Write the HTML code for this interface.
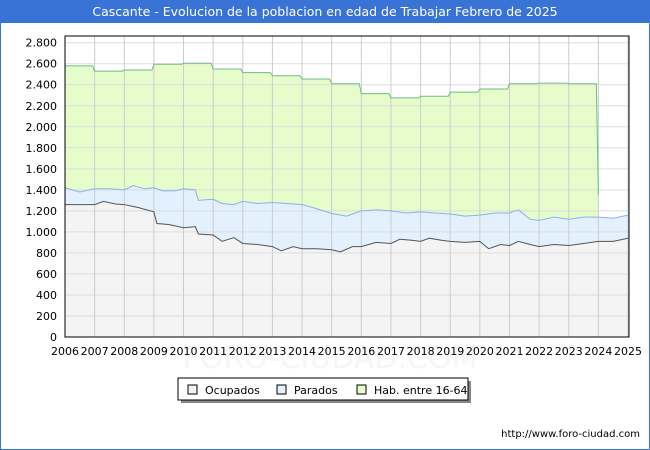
<!DOCTYPE html>
<html><head><meta charset="utf-8"><style>
body{margin:0;background:#fff;font-family:"DejaVu Sans","Liberation Sans",sans-serif}
#wrap{position:relative;width:650px;height:450px;overflow:hidden;background:#fff}
#title{position:absolute;left:0;top:0;width:650px;height:23px;background:#3a73d6;color:#fff;font-size:12.5px;line-height:23px;text-align:center}
#frame{position:absolute;left:0;top:23px;width:648px;height:426px;border:1px solid #3a73d6;border-top:none}
</style></head><body>
<div id="wrap">
<div id="title">Cascante - Evolucion de la poblacion en edad de Trabajar Febrero de 2025</div>
<div id="frame"></div>
<svg id="svg" width="650" height="450" style="position:absolute;left:0;top:0;font-family:'DejaVu Sans',sans-serif"></svg>
</div>
<script>
const yearTicks=[2006,2007,2008,2009,2010,2011,2012,2013,2014,2015,2016,2017,2018,2019,2020,2021,2022,2023,2024,2025];
const yTicks=[0,200,400,600,800,1000,1200,1400,1600,1800,2000,2200,2400,2600,2800];
const yTickLabels=["0","200","400","600","800","1.000","1.200","1.400","1.600","1.800","2.000","2.200","2.400","2.600","2.800"];
const habYears=[2006,2007,2008,2009,2010,2011,2012,2013,2014,2015,2016,2017,2018,2019,2020,2021,2022,2023];
const habValues=[2580,2530,2540,2595,2605,2550,2515,2485,2455,2410,2315,2275,2290,2330,2360,2410,2415,2410];
const habEndValue=1350;
const totTimes=[2006,2006.5,2007,2007.5,2008,2008.3,2008.7,2009,2009.3,2009.7,2010,2010.4,2010.5,2011,2011.3,2011.7,2012,2012.5,2013,2013.5,2014,2014.5,2015,2015.5,2016,2016.5,2017,2017.5,2018,2018.5,2019,2019.5,2020,2020.5,2021,2021.3,2021.7,2022,2022.5,2023,2023.5,2024,2024.5,2025];
const totValues=[1420,1380,1410,1410,1400,1440,1410,1420,1390,1390,1410,1400,1300,1310,1270,1260,1290,1270,1280,1270,1260,1220,1175,1150,1200,1210,1200,1180,1190,1180,1170,1150,1160,1180,1180,1210,1120,1110,1140,1120,1140,1140,1130,1160];
const ocuTimes=[2006,2006.5,2007,2007.3,2007.7,2008,2008.5,2009,2009.1,2009.5,2010,2010.4,2010.5,2011,2011.3,2011.7,2012,2012.5,2013,2013.3,2013.7,2014,2014.5,2015,2015.3,2015.7,2016,2016.5,2017,2017.3,2017.7,2018,2018.3,2018.7,2019,2019.5,2020,2020.3,2020.7,2021,2021.3,2021.7,2022,2022.5,2023,2023.5,2024,2024.5,2025];
const ocuValues=[1260,1260,1260,1290,1265,1260,1230,1190,1080,1070,1040,1050,980,970,910,945,890,880,860,820,860,840,840,830,810,860,860,900,890,930,920,910,940,920,910,900,910,840,880,870,910,880,860,880,870,890,910,910,940];
const L=65,R=629,T=36,B=337;
const xs=t=>L+(t-2006)/19*(628-L);
const ys=v=>B-v/2800*294.3;
const svg=document.getElementById('svg');
const NS='http://www.w3.org/2000/svg';
function mk(tag,attrs,name){const e=document.createElementNS(NS,tag);for(const k in attrs)e.setAttribute(k,attrs[k]);


svg.appendChild(e);return e;}
const wm=mk('text',{x:330,y:368,'text-anchor':'middle','font-size':30,fill:'#f6f6f6'},'watermark');wm.textContent='FORO-CIUDAD.COM';
mk('rect',{x:L,y:T,width:R-L,height:B-T,fill:'#fff'},'plot-background');
let hp='M'+xs(2006)+','+B;
habYears.forEach((y,i)=>{hp+=' L'+xs(y)+','+ys(habValues[i])+' L'+(xs(y+1)-2)+','+ys(habValues[i]);});
hp+=' L'+xs(2024)+','+ys(habEndValue)+' L'+xs(2024)+','+B+' Z';
mk('path',{d:hp,fill:'#e6fdcb',stroke:'none'},'hab-area');
let hl='M'+xs(2006)+','+ys(habValues[0]);
habYears.forEach((y,i)=>{hl+=' L'+xs(y)+','+ys(habValues[i])+' L'+(xs(y+1)-2)+','+ys(habValues[i]);});
hl+=' L'+xs(2024)+','+ys(habEndValue);
let tp='M'+xs(2006)+','+B;totTimes.forEach((t,i)=>tp+=' L'+xs(t)+','+ys(totValues[i]));tp+=' L'+xs(2025)+','+B+' Z';
mk('path',{d:tp,fill:'#e3f0fd'},'parados-area');
let op='M'+xs(2006)+','+B;ocuTimes.forEach((t,i)=>op+=' L'+xs(t)+','+ys(ocuValues[i]));op+=' L'+xs(2025)+','+B+' Z';
mk('path',{d:op,fill:'#f4f4f4'},'ocupados-area');
yTicks.forEach((v,i)=>{mk('line',{x1:L,x2:R,y1:ys(v),y2:ys(v),stroke:'#ddd','stroke-width':1},'y-gridline');
const t=mk('text',{x:L-8,y:ys(v)+4,'text-anchor':'end','font-size':11,fill:'#000'},'y-tick-label');t.textContent=yTickLabels[i];});
yearTicks.forEach(y=>{mk('line',{x1:xs(y),x2:xs(y),y1:T,y2:B,stroke:'#ccc','stroke-width':1},'x-gridline');
const t=mk('text',{x:xs(y),y:B+18,'text-anchor':'middle','font-size':11,fill:'#000'},'x-tick-label');t.textContent=y;});
mk('path',{d:hl,fill:'none',stroke:'#6dbb8a','stroke-width':1},'hab-line');
let tl='';totTimes.forEach((t,i)=>tl+=(i?' L':'M')+xs(t)+','+ys(totValues[i]));
mk('path',{d:tl,fill:'none',stroke:'#8ab0f0','stroke-width':1},'parados-line');
let ol='';ocuTimes.forEach((t,i)=>ol+=(i?' L':'M')+xs(t)+','+ys(ocuValues[i]));
mk('path',{d:ol,fill:'none',stroke:'#555','stroke-width':1},'ocupados-line');
mk('rect',{x:L,y:T,width:R-L,height:B-T,fill:'none',stroke:'#000','stroke-width':1},'plot-border');
mk('rect',{x:181,y:381,width:290,height:22,fill:'#888'},'legend-shadow');
mk('rect',{x:178,y:378,width:290,height:22,fill:'#fff',stroke:'#000','stroke-width':1},'legend-box');
[['Ocupados','#f4f4f4',188],['Parados','#e3f0fd',277],['Hab. entre 16-64','#e6fdcb',357]].forEach(([n,c,x])=>{
mk('rect',{x:x,y:385,width:9,height:9,fill:c,stroke:'#000','stroke-width':1},'legend-swatch');
const t=mk('text',{x:x+17,y:394,'font-size':11,fill:'#000'},'legend-label');t.textContent=n;});
const u=mk('text',{x:640,y:437,'text-anchor':'end','font-size':10,fill:'#000'},'source-url');u.textContent='http://www.foro-ciudad.com';
</script>
</body></html>
